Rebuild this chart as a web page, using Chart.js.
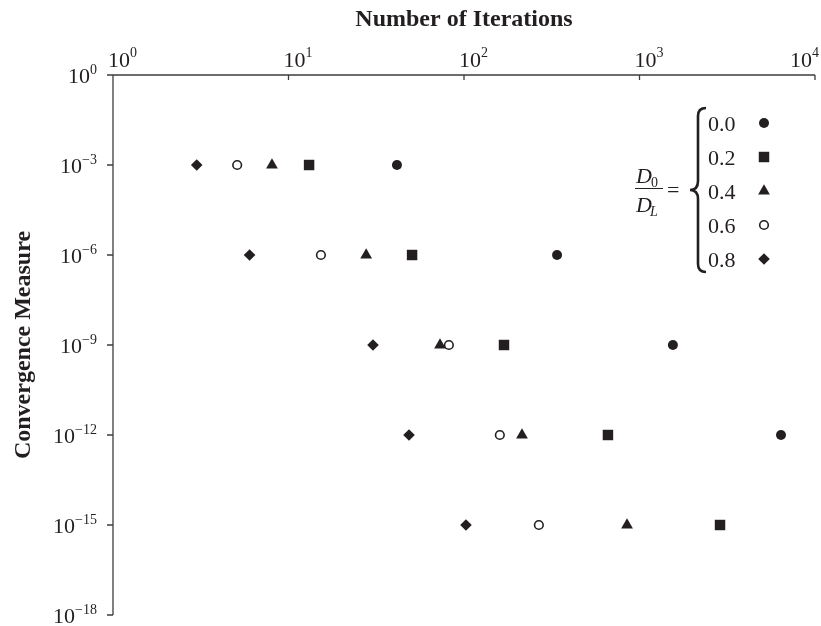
<!DOCTYPE html>
<html>
<head>
<meta charset="utf-8">
<script src="https://cdn.jsdelivr.net/npm/chart.js"></script>
<style>
  html, body { margin: 0; padding: 0; background: #fff; }
  #wrap { width: 821px; height: 626px; position: relative; }
</style>
</head>
<body>
<div id="wrap"><canvas id="chart"></canvas></div>
<script>
// D0/DL ratios (one series each)
const D0DL = ['0.0', '0.2', '0.4', '0.6', '0.8'];
// convergence levels reached
const measure = [1e-3, 1e-6, 1e-9, 1e-12, 1e-15];
// iterations needed for each level
const iter00 = [41.5, 339, 1550, 6400];
const iter02 = [13.1, 50.6, 169, 661, 2876];
const iter04 = [8.05, 27.7, 73, 214, 849];
const iter06 = [5.1, 15.3, 82, 160, 267];
const iter08 = [3.0, 6.0, 30.3, 48.6, 102.6];
// tick exponents
const xTickExp = [0, 1, 2, 3, 4];
const yTickExp = [0, -3, -6, -9, -12, -15, -18];

const INK = '#231f20';
const AXIS = '#3c3c3c';
const SERIF = '"Liberation Serif", "Times New Roman", serif';
const markerStyles = ['circle', 'rect', 'triangle', 'circle', 'rectRot'];
const markerRadii = [5, 7.4, 6.8, 4.3, 5.8];

const iterations = [iter00, iter02, iter04, iter06, iter08];
const datasets = D0DL.map((lbl, i) => ({
  label: lbl,
  data: iterations[i].map((n, k) => ({ x: n, y: measure[k] })),
  pointStyle: markerStyles[i],
  pointRadius: markerRadii[i],
  pointHoverRadius: markerRadii[i],
  backgroundColor: i === 3 ? '#fff' : INK,
  borderColor: INK,
  borderWidth: i === 3 ? 1.6 : 0
}));

function supText(exp) {
  return exp < 0 ? '\u2212' + (-exp) : String(exp);
}

// axes, tick labels, titles and the D0/DL legend
const paperPlugin = {
  id: 'paper',
  beforeDatasetsDraw(chart) {
    const { ctx, chartArea: a, scales: { x, y } } = chart;
    ctx.save();
    ctx.strokeStyle = AXIS;
    ctx.lineWidth = 1.3;
    ctx.beginPath();
    ctx.moveTo(a.left - 6, a.top); ctx.lineTo(a.right, a.top);
    ctx.moveTo(a.left, a.top); ctx.lineTo(a.left, a.bottom);
    xTickExp.forEach(e => {
      const px = x.getPixelForValue(Math.pow(10, e));
      ctx.moveTo(px, a.top); ctx.lineTo(px, a.top + 5);
    });
    yTickExp.forEach(e => {
      const py = y.getPixelForValue(Math.pow(10, e));
      ctx.moveTo(a.left - 6, py); ctx.lineTo(a.left, py);
    });
    ctx.stroke();
    ctx.restore();
  },
  afterDraw(chart) {
    const { ctx, chartArea: a, scales: { x, y } } = chart;
    const baseFont = '22px ' + SERIF;
    const supFont = '14px ' + SERIF;
    ctx.save();
    ctx.fillStyle = INK;
    ctx.textBaseline = 'alphabetic';
    ctx.textAlign = 'left';

    // x tick labels (top)
    xTickExp.forEach(e => {
      const px = x.getPixelForValue(Math.pow(10, e));
      ctx.font = baseFont;
      const w1 = ctx.measureText('10').width;
      ctx.font = supFont;
      const w2 = ctx.measureText(supText(e)).width;
      let left = px - 5;
      if (left + w1 + w2 > chart.width - 2) left = chart.width - 2 - w1 - w2;
      ctx.font = baseFont;
      ctx.fillText('10', left, a.top - 8);
      ctx.font = supFont;
      ctx.fillText(supText(e), left + w1, a.top - 18);
    });

    // y tick labels (left)
    const rightEdge = a.left - 16;
    yTickExp.forEach(e => {
      const py = y.getPixelForValue(Math.pow(10, e));
      ctx.font = supFont;
      const w2 = ctx.measureText(supText(e)).width;
      ctx.fillText(supText(e), rightEdge - w2, py - 1);
      ctx.font = baseFont;
      const w1 = ctx.measureText('10').width;
      ctx.fillText('10', rightEdge - w2 - w1, py + 8);
    });

    // axis titles
    ctx.font = 'bold 24px ' + SERIF;
    ctx.textAlign = 'center';
    ctx.fillText('Number of Iterations', (a.left + a.right) / 2, 26);
    ctx.save();
    ctx.translate(30, (a.top + a.bottom) / 2);
    ctx.rotate(-Math.PI / 2);
    ctx.fillText('Convergence Measure', 0, 0);
    ctx.restore();

    // legend: D0/DL = { values + markers
    const rowY0 = 123, rowStep = 34;
    ctx.textAlign = 'left';
    D0DL.forEach((lbl, i) => {
      const ry = rowY0 + rowStep * i;
      ctx.font = baseFont;
      ctx.fillStyle = INK;
      ctx.fillText(lbl, 708, ry + 8);
      ctx.fillStyle = i === 3 ? '#fff' : INK;
      ctx.strokeStyle = INK;
      ctx.lineWidth = i === 3 ? 1.6 : 0;
      Chart.helpers.drawPoint(ctx, {
        pointStyle: markerStyles[i], radius: markerRadii[i],
        rotation: 0, borderWidth: i === 3 ? 1.6 : 0
      }, 764, ry);
    });

    // brace
    const top = 108, bot = 272, mid = 190, xR = 706, xM = 698, xL = 690;
    ctx.strokeStyle = INK;
    ctx.lineWidth = 2.6;
    ctx.beginPath();
    ctx.moveTo(xR, top);
    ctx.quadraticCurveTo(xM, top, xM, top + 8);
    ctx.lineTo(xM, mid - 9);
    ctx.quadraticCurveTo(xM, mid, xL, mid);
    ctx.quadraticCurveTo(xM, mid, xM, mid + 9);
    ctx.lineTo(xM, bot - 8);
    ctx.quadraticCurveTo(xM, bot, xR, bot);
    ctx.stroke();

    // fraction D0 / DL =
    ctx.fillStyle = INK;
    ctx.font = 'italic 22px ' + SERIF;
    ctx.fillText('D', 636, 183);
    const dw = ctx.measureText('D').width;
    ctx.font = '14px ' + SERIF;
    ctx.fillText('0', 636 + dw - 1, 187);
    ctx.font = 'italic 22px ' + SERIF;
    ctx.fillText('D', 636, 212);
    ctx.font = 'italic 14px ' + SERIF;
    ctx.fillText('L', 636 + dw - 2, 216);
    ctx.lineWidth = 1;
    ctx.beginPath();
    ctx.moveTo(635, 188.5); ctx.lineTo(663, 188.5);
    ctx.stroke();
    ctx.font = baseFont;
    ctx.fillText('=', 667, 197);
    ctx.restore();
  }
};

new Chart(document.getElementById('chart'), {
  type: 'scatter',
  data: { datasets: datasets },
  options: {
    responsive: true,
    maintainAspectRatio: false,
    animation: false,
    layout: { autoPadding: false, padding: { left: 113, top: 75, right: 6, bottom: 11 } },
    plugins: { legend: { display: false }, tooltip: { enabled: false } },
    scales: {
      x: { type: 'logarithmic', position: 'top', min: 1, max: 10000, display: false },
      y: { type: 'logarithmic', min: 1e-18, max: 1, display: false }
    }
  },
  plugins: [paperPlugin]
});
</script>
</body>
</html>
